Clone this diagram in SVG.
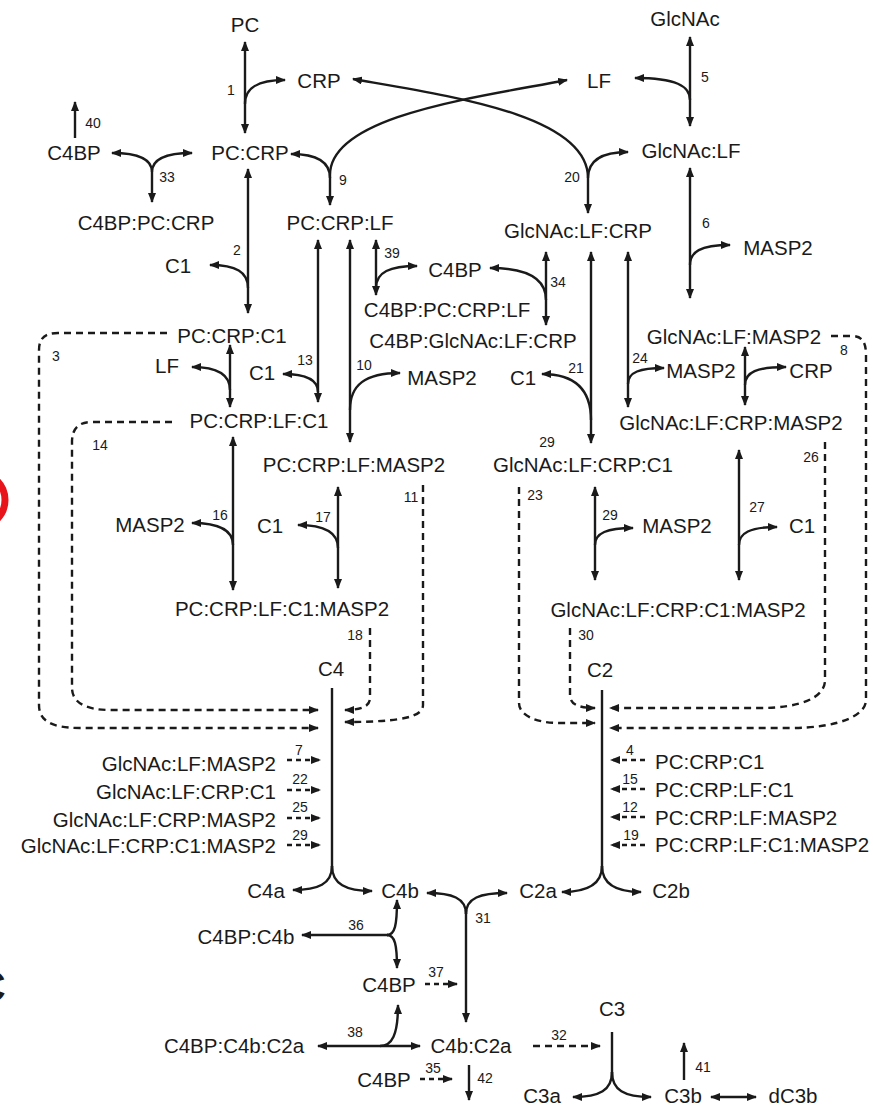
<svg xmlns="http://www.w3.org/2000/svg" width="873" height="1107" viewBox="0 0 873 1107">
<defs>
<style>
.n{font-family:"Liberation Sans",Arial,sans-serif;font-size:20.5px;fill:#1a1a1a;text-anchor:middle}
.s{text-anchor:start}.e{text-anchor:end}
.r{font-family:"Liberation Sans",Arial,sans-serif;font-size:14px;fill:#1a1a1a;text-anchor:middle}
.c{fill:none;stroke:#1a1a1a;stroke-width:2.4}
.d{stroke-dasharray:7 5}
.ds{stroke-dasharray:5 4}
.a{marker-end:url(#ah)}
.b{marker-start:url(#ah);marker-end:url(#ah)}
</style>
<marker id="ah" viewBox="0 0 10 8" refX="9" refY="4" markerWidth="10" markerHeight="8" markerUnits="userSpaceOnUse" orient="auto-start-reverse">
<path d="M0,0 L10,4 L0,8 z" fill="#1a1a1a"/>
</marker>
</defs>
<rect width="873" height="1107" fill="#fff"/>
<circle cx="-22" cy="500" r="27" fill="none" stroke="#e8141b" stroke-width="7"/>
<text x="-26" y="1002" style="font-family:'Liberation Sans',Arial,sans-serif;font-size:44px;font-weight:bold;fill:#1a1a1a">C</text>

<g id="connectors">
<!-- R1 -->
<path class="c b" d="M245,42 L245,133"/>
<path class="c a" d="M245,104 C245,88 257,80 285,80"/>
<!-- R5 -->
<path class="c b" d="M690,37 L690,126"/>
<path class="c a" d="M690,100 C690,86 676,78 635,78"/>
<!-- R20 / R9 crossing -->
<path class="c b" d="M353,79 C450,96 588,115 588,178 L588,213"/>
<path class="c b" d="M567,80 C480,97 330,115 330,175 L330,205"/>
<path class="c a" d="M330,178 C330,162 318,154 291,154"/>
<path class="c a" d="M588,178 C588,162 600,152 628,152"/>
<!-- R40 -->
<path class="c a" d="M75,138 L75,102"/>
<!-- R33 -->
<path class="c b" d="M112,153 C135,153 152,158 152,172 L152,202"/>
<path class="c a" d="M152,172 C152,158 168,153 192,153"/>
<!-- R2 -->
<path class="c b" d="M248,169 L248,313"/>
<path class="c a" d="M248,288 C248,272 236,265 210,265"/>
<!-- R6 -->
<path class="c b" d="M690,168 L690,298"/>
<path class="c a" d="M690,265 C690,252 700,245 730,245"/>
<!-- R39 -->
<path class="c b" d="M376,240 L376,295"/>
<path class="c a" d="M376,288 C376,272 390,266 417,266"/>
<!-- R34 -->
<path class="c b" d="M546,252 L546,325"/>
<path class="c a" d="M546,300 C546,280 530,268 490,268"/>
<!-- R13 -->
<path class="c b" d="M318,240 L318,402"/>
<path class="c a" d="M318,392 C318,380 306,374 283,374"/>
<!-- R10 -->
<path class="c b" d="M350,240 L350,442"/>
<path class="c a" d="M350,410 C350,385 365,373 400,373"/>
<!-- R21 -->
<path class="c b" d="M591,252 L591,443"/>
<path class="c a" d="M591,420 C591,390 575,374 542,374"/>
<!-- R24 -->
<path class="c b" d="M628,252 L628,407"/>
<path class="c a" d="M628,384 C628,372 640,368 664,368"/>
<!-- CRP release right -->
<path class="c b" d="M745,347 L745,405"/>
<path class="c a" d="M745,385 C745,372 757,367 786,367"/>
<!-- LF release left -->
<path class="c b" d="M230,345 L230,407"/>
<path class="c a" d="M230,390 C230,376 220,367 192,367"/>
<!-- R16 -->
<path class="c b" d="M233,437 L233,590"/>
<path class="c a" d="M233,545 C233,532 222,523 192,523"/>
<!-- R17 -->
<path class="c b" d="M338,487 L338,588"/>
<path class="c a" d="M338,548 C338,533 326,525 298,525"/>
<!-- R29 -->
<path class="c b" d="M595,487 L595,580"/>
<path class="c a" d="M595,545 C595,533 607,528 633,528"/>
<!-- R27 -->
<path class="c b" d="M739,450 L739,580"/>
<path class="c a" d="M739,545 C739,533 750,527 777,527"/>
<!-- dashed long -->
<path class="c d a" d="M167,333 L58,333 C45,333 39,338 39,350 L39,705 C39,720 50,728 80,728 L318,728"/>
<path class="c d a" d="M172,422 L92,422 C79,422 72,428 72,442 L72,688 C72,702 85,710 110,710 L318,710"/>
<path class="c d a" d="M370,628 L370,698 C370,706 362,710 345,710"/>
<path class="c d a" d="M423,485 L423,705 C423,716 405,722 345,722"/>
<path class="c d a" d="M519,487 L519,703 C519,715 535,723 560,723 L595,723"/>
<path class="c d a" d="M570,628 L570,695 C570,703 576,708 595,708"/>
<path class="c d a" d="M825,442 L825,680 C825,698 800,708 760,708 L610,708"/>
<path class="c d a" d="M831,336 L852,336 C862,336 866,342 866,355 L866,700 C866,715 840,728 790,728 L610,728"/>
<!-- small dashed left -->
<path class="c ds a" d="M287,760 L320,760"/>
<path class="c ds a" d="M287,790 L320,790"/>
<path class="c ds a" d="M287,818 L320,818"/>
<path class="c ds a" d="M287,845 L320,845"/>
<!-- small dashed right -->
<path class="c ds a" d="M645,760 L611,760"/>
<path class="c ds a" d="M645,789 L611,789"/>
<path class="c ds a" d="M645,817 L611,817"/>
<path class="c ds a" d="M645,845 L611,845"/>
<!-- C4 -->
<path class="c" d="M332,688 L332,872"/>
<path class="c a" d="M332,866 C332,884 318,890 293,890"/>
<path class="c a" d="M332,866 C332,884 346,891 372,891"/>
<!-- C2 -->
<path class="c" d="M602,690 L602,872"/>
<path class="c a" d="M602,866 C602,884 588,892 562,892"/>
<path class="c a" d="M602,866 C602,884 616,892 641,892"/>
<!-- R31 -->
<path class="c a" d="M466,910 L466,1022"/>
<path class="c a" d="M466,914 C466,898 452,893 427,893"/>
<path class="c a" d="M466,914 C466,898 480,893 507,893"/>
<!-- R36 -->
<path class="c a" d="M388,935 L302,935"/>
<path class="c a" d="M387,935 C395,935 397,925 397,900"/>
<path class="c a" d="M387,935 C395,935 397,945 397,968"/>
<!-- R37 -->
<path class="c ds a" d="M425,984 L457,984"/>
<!-- R38 -->
<path class="c b" d="M318,1046 L420,1046"/>
<path class="c a" d="M380,1046 C392,1046 398,1035 398,1005"/>
<!-- R32 -->
<path class="c d a" d="M533,1046 L600,1046"/>
<!-- C3 -->
<path class="c" d="M612,1032 L612,1078"/>
<path class="c a" d="M612,1072 C612,1090 600,1097 573,1097"/>
<path class="c a" d="M612,1072 C612,1090 624,1097 651,1097"/>
<path class="c b" d="M711,1097 L756,1097"/>
<!-- R41, R35, R42 -->
<path class="c a" d="M684,1080 L684,1043"/>
<path class="c ds a" d="M420,1079 L452,1079"/>
<path class="c a" d="M469,1065 L469,1100"/>
</g>

<g id="reaction-labels">
<text class="r" x="231" y="95">1</text>
<text class="r" x="705" y="82">5</text>
<text class="r" x="93" y="128">40</text>
<text class="r" x="167" y="182">33</text>
<text class="r" x="343" y="185">9</text>
<text class="r" x="572" y="182">20</text>
<text class="r" x="706" y="228">6</text>
<text class="r" x="237" y="255">2</text>
<text class="r" x="392" y="258">39</text>
<text class="r" x="558" y="287">34</text>
<text class="r" x="56" y="361">3</text>
<text class="r" x="844" y="355">8</text>
<text class="r" x="305" y="365">13</text>
<text class="r" x="364" y="370">10</text>
<text class="r" x="576" y="373">21</text>
<text class="r" x="640" y="363">24</text>
<text class="r" x="100" y="450">14</text>
<text class="r" x="547" y="447">29</text>
<text class="r" x="811" y="462">26</text>
<text class="r" x="411" y="502">11</text>
<text class="r" x="535" y="500">23</text>
<text class="r" x="757" y="512">27</text>
<text class="r" x="610" y="520">29</text>
<text class="r" x="220" y="520">16</text>
<text class="r" x="323" y="522">17</text>
<text class="r" x="355" y="640">18</text>
<text class="r" x="586" y="640">30</text>
<text class="r" x="299" y="755">7</text>
<text class="r" x="300" y="784">22</text>
<text class="r" x="300" y="812">25</text>
<text class="r" x="300" y="840">29</text>
<text class="r" x="630" y="755">4</text>
<text class="r" x="630" y="784">15</text>
<text class="r" x="630" y="812">12</text>
<text class="r" x="631" y="840">19</text>
<text class="r" x="483" y="923">31</text>
<text class="r" x="356" y="930">36</text>
<text class="r" x="436" y="977">37</text>
<text class="r" x="355" y="1037">38</text>
<text class="r" x="559" y="1040">32</text>
<text class="r" x="433" y="1073">35</text>
<text class="r" x="703" y="1072">41</text>
<text class="r" x="485" y="1083">42</text>
</g>

<g id="n-PC"><text class="n" x="245" y="32">PC</text></g>
<g id="n-CRP"><text class="n" x="319" y="88">CRP</text></g>
<g id="n-LF"><text class="n" x="599" y="88">LF</text></g>
<g id="n-GlcNAc"><text class="n" x="685" y="26">GlcNAc</text></g>
<g id="n-C4BP-1"><text class="n" x="74" y="160">C4BP</text></g>
<g id="n-PC-CRP"><text class="n" x="250" y="160">PC:CRP</text></g>
<g id="n-GlcNAc-LF"><text class="n" x="691" y="158">GlcNAc:LF</text></g>
<g id="n-C4BP-PC-CRP"><text class="n" x="146" y="230">C4BP:PC:CRP</text></g>
<g id="n-PC-CRP-LF"><text class="n" x="340" y="230">PC:CRP:LF</text></g>
<g id="n-GlcNAc-LF-CRP"><text class="n" x="578" y="238">GlcNAc:LF:CRP</text></g>
<g id="n-MASP2-1"><text class="n" x="778" y="255">MASP2</text></g>
<g id="n-C1-1"><text class="n" x="178" y="273">C1</text></g>
<g id="n-C4BP-2"><text class="n" x="455" y="277">C4BP</text></g>
<g id="n-C4BP-PC-CRP-LF"><text class="n" x="447" y="317">C4BP:PC:CRP:LF</text></g>
<g id="n-C4BP-GlcNAc-LF-CRP"><text class="n" x="473" y="348">C4BP:GlcNAc:LF:CRP</text></g>
<g id="n-PC-CRP-C1"><text class="n" x="232" y="343">PC:CRP:C1</text></g>
<g id="n-GlcNAc-LF-MASP2"><text class="n" x="734" y="344">GlcNAc:LF:MASP2</text></g>
<g id="n-LF-2"><text class="n" x="167" y="373">LF</text></g>
<g id="n-C1-2"><text class="n" x="262" y="380">C1</text></g>
<g id="n-MASP2-2"><text class="n" x="442" y="385">MASP2</text></g>
<g id="n-C1-3"><text class="n" x="523" y="385">C1</text></g>
<g id="n-MASP2-3"><text class="n" x="701" y="378">MASP2</text></g>
<g id="n-CRP-2"><text class="n" x="811" y="378">CRP</text></g>
<g id="n-PC-CRP-LF-C1"><text class="n" x="259" y="428">PC:CRP:LF:C1</text></g>
<g id="n-GlcNAc-LF-CRP-MASP2"><text class="n" x="731" y="430">GlcNAc:LF:CRP:MASP2</text></g>
<g id="n-PC-CRP-LF-MASP2"><text class="n" x="354" y="472">PC:CRP:LF:MASP2</text></g>
<g id="n-GlcNAc-LF-CRP-C1"><text class="n" x="583" y="472">GlcNAc:LF:CRP:C1</text></g>
<g id="n-MASP2-4"><text class="n" x="150" y="532">MASP2</text></g>
<g id="n-C1-4"><text class="n" x="270" y="533">C1</text></g>
<g id="n-MASP2-5"><text class="n" x="677" y="533">MASP2</text></g>
<g id="n-C1-5"><text class="n" x="802" y="533">C1</text></g>
<g id="n-PC-CRP-LF-C1-MASP2"><text class="n" x="282" y="616">PC:CRP:LF:C1:MASP2</text></g>
<g id="n-GlcNAc-LF-CRP-C1-MASP2"><text class="n" x="678" y="617">GlcNAc:LF:CRP:C1:MASP2</text></g>
<g id="n-C4"><text class="n" x="331" y="676">C4</text></g>
<g id="n-C2"><text class="n" x="600" y="677">C2</text></g>
<g id="n-left-list">
<text class="n e" x="276" y="771">GlcNAc:LF:MASP2</text>
<text class="n e" x="276" y="799">GlcNAc:LF:CRP:C1</text>
<text class="n e" x="276" y="827">GlcNAc:LF:CRP:MASP2</text>
<text class="n e" x="276" y="853">GlcNAc:LF:CRP:C1:MASP2</text>
</g>
<g id="n-right-list">
<text class="n s" x="655" y="769">PC:CRP:C1</text>
<text class="n s" x="655" y="797">PC:CRP:LF:C1</text>
<text class="n s" x="655" y="825">PC:CRP:LF:MASP2</text>
<text class="n s" x="655" y="852">PC:CRP:LF:C1:MASP2</text>
</g>
<g id="n-C4a"><text class="n" x="266" y="898">C4a</text></g>
<g id="n-C4b"><text class="n" x="400" y="898">C4b</text></g>
<g id="n-C2a"><text class="n" x="538" y="898">C2a</text></g>
<g id="n-C2b"><text class="n" x="671" y="898">C2b</text></g>
<g id="n-C4BP-C4b"><text class="n" x="246" y="944">C4BP:C4b</text></g>
<g id="n-C4BP-3"><text class="n" x="389" y="992">C4BP</text></g>
<g id="n-C3"><text class="n" x="612" y="1016">C3</text></g>
<g id="n-C4BP-C4b-C2a"><text class="n" x="234" y="1053">C4BP:C4b:C2a</text></g>
<g id="n-C4b-C2a"><text class="n" x="471" y="1053">C4b:C2a</text></g>
<g id="n-C4BP-4"><text class="n" x="384" y="1087">C4BP</text></g>
<g id="n-C3a"><text class="n" x="542" y="1103">C3a</text></g>
<g id="n-C3b"><text class="n" x="683" y="1103">C3b</text></g>
<g id="n-dC3b"><text class="n" x="793" y="1103">dC3b</text></g>
</svg>
